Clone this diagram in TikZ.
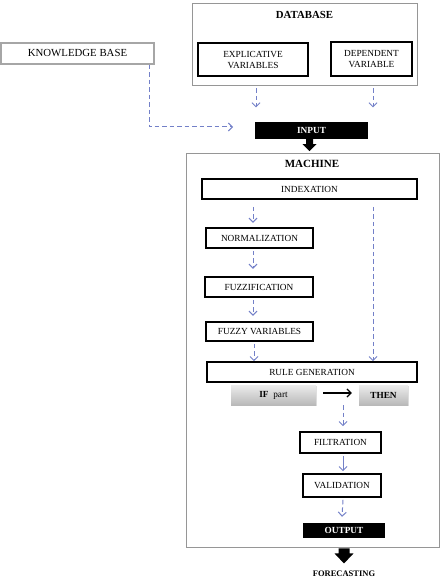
\documentclass[tikz,border=0pt]{standalone}
\usepackage{fontspec}
\setmainfont{Liberation Serif}
\usetikzlibrary{arrows.meta,calc,shadows}
\definecolor{dashblue}{RGB}{115,128,200}
\definecolor{frame}{RGB}{150,150,150}
\begin{document}
\begin{tikzpicture}[x=1pt,y=-1pt,
  txt/.style={font=\fontsize{9.3}{11}\selectfont},
  container/.style={draw=frame,line width=0.9pt,inner sep=0pt},
  stepbox/.style={draw=black,line width=1.6pt,inner sep=0pt,txt,align=center},
  varbox/.style={draw=black,line width=2pt,inner sep=0pt,txt,align=center},
  blackbox/.style={fill=black,inner sep=0pt,text=white,font=\fontsize{9.3}{11}\selectfont\bfseries},
  graybox/.style={inner sep=0pt,top color=gray!15,bottom color=gray!55,draw=none,
     drop shadow={opacity=0.25,shadow xshift=1pt,shadow yshift=-1pt},txt},
  title/.style={font=\fontsize{10.8}{12}\selectfont\bfseries},
  dasharrow/.style={draw=dashblue,line width=1pt,dash pattern=on 4.5pt off 3pt,
     -{Straight Barb[length=4pt,width=8pt]}},
  solidblue/.style={draw=dashblue,line width=1pt,-{Straight Barb[length=4pt,width=8pt]}},
]
\clip (0,0) rectangle (443,580);
\useasboundingbox (0,0) rectangle (443,580);

% Database
\node[container,minimum width=225pt,minimum height=82pt] (db) at (304.5,44) {};
\node[title] (dbt) at (304.5,15) {DATABASE};
\node[varbox,minimum width=110pt,minimum height=33pt] (exp) at (253,59.5) {EXPLICATIVE\\VARIABLES};
\node[varbox,minimum width=81pt,minimum height=34pt] (dep) at (371.5,59) {DEPENDENT\\VARIABLE};

% Knowledge base
\node[draw=gray!70,line width=1.1pt,inner sep=0pt,minimum width=153pt,minimum height=21pt,
      font=\fontsize{10.8}{12}\selectfont] (kb) at (77.5,53.5) {KNOWLEDGE BASE};

% Input
\node[blackbox,minimum width=113pt,minimum height=17pt] (input) at (311.5,130.5) {INPUT};
\coordinate (kbend) at (233,127);

% Machine
\node[container,minimum width=253pt,minimum height=394pt] (machine) at (312.5,350) {};
\node[font=\fontsize{11}{12}\selectfont\bfseries] (mt) at (312,164) {MACHINE};
\node[stepbox,minimum width=215pt,minimum height=20pt] (idx) at (309.5,189) {INDEXATION};
\node[stepbox,minimum width=107pt,minimum height=20pt] (norm) at (259.5,238) {NORMALIZATION};
\node[stepbox,minimum width=108pt,minimum height=20pt] (fuzz) at (259,287) {FUZZIFICATION};
\node[stepbox,minimum width=107pt,minimum height=19pt] (fvar) at (259.5,331.5) {FUZZY VARIABLES};
\node[stepbox,minimum width=210pt,minimum height=20pt] (rule) at (312,372) {RULE GENERATION};
\node[graybox,minimum width=85pt,minimum height=20pt] (ifp) at (273.5,395) {\textbf{IF}\enspace part};
\node[graybox,minimum width=49pt,minimum height=20pt,font=\fontsize{9.3}{11}\selectfont\bfseries] (then) at (383.5,395) {THEN};
\node[stepbox,minimum width=81pt,minimum height=21pt] (filt) at (340.5,442.5) {FILTRATION};
\node[stepbox,minimum width=78pt,minimum height=23pt] (valid) at (342,485.5) {VALIDATION};
\node[blackbox,minimum width=82pt,minimum height=15pt] (output) at (344,530.5) {OUTPUT};
\node[font=\fontsize{8.5}{10}\selectfont\bfseries] (fore) at (344,574) {FORECASTING};

% Connectors from database
\draw[dasharrow] ([yshift=-3pt]db.south -| exp.south) ++(3,0) -- ++(0,19);
\draw[dasharrow] ([yshift=-3pt]db.south -| dep.south) ++(1.5,0) -- ++(0,19);
% knowledge base to input
\draw[dasharrow] ([xshift=-5pt]kb.south east) |- (kbend);

% block arrow input -> machine
\fill[black] ([xshift=-5.5pt]input.south) -- ++(0,5) -- ++(-3.5,0) -- ++(7,7)
   -- ++(7,-7) -- ++(-3.5,0) -- ++(0,-5) -- cycle;

% machine internal arrows
\draw[dasharrow] ([xshift=-56.5pt,yshift=-7pt]idx.south) -- ++(0,16);
\draw[dasharrow] ([xshift=63.5pt,yshift=-7pt]idx.south) -- (rule.north -| 373,0);
\draw[dasharrow] ([xshift=-6.5pt,yshift=-2pt]norm.south) -- ++(0,18);
\draw[dasharrow] ([xshift=-6pt,yshift=-2pt]fuzz.south) -- ++(0,16);
\draw[dasharrow] ([xshift=-5.5pt,yshift=-2pt]fvar.south) -- (rule.north -| 254,0);
\draw[black,line width=1.2pt,-{Straight Barb[length=4pt,width=8pt]}] ([xshift=7pt,yshift=2pt]ifp.east) -- ([xshift=-7pt,yshift=2pt]then.west);
\draw[dasharrow] (filt.north |- ifp.south) ++(2.5,0) -- ([xshift=2.5pt,yshift=5pt]filt.north);
\draw[solidblue] ([xshift=2.5pt,yshift=-2pt]filt.south) -- ([xshift=1pt,yshift=2pt]valid.north);
\draw[dasharrow] ([xshift=1pt,yshift=-2pt]valid.south) -- ([yshift=6pt]output.north -| valid.south);

% block arrow machine -> forecasting
\fill[black] ([xshift=-5.5pt,yshift=-1pt]machine.south -| output.south) -- ++(0,5) -- ++(-4,0) -- ++(9.5,10)
   -- ++(9.5,-10) -- ++(-4,0) -- ++(0,-5) -- cycle;
\end{tikzpicture}
\end{document}
